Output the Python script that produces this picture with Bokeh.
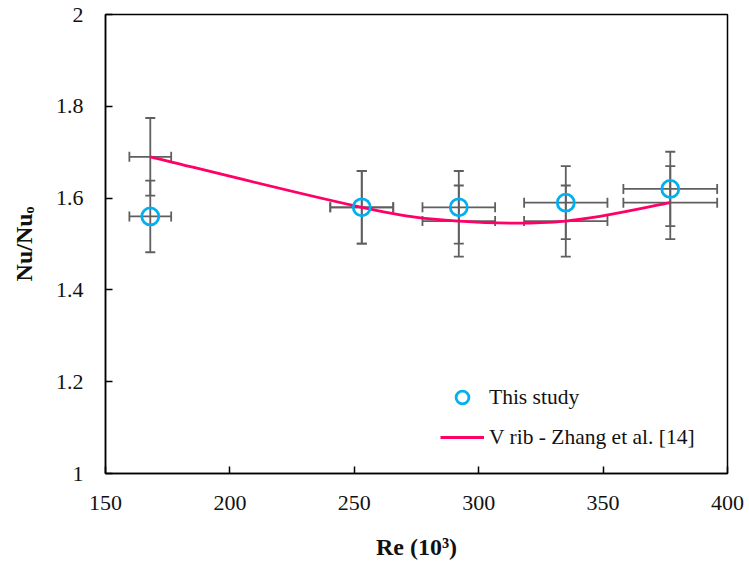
from bokeh.plotting import figure
from bokeh.models import (ColumnDataSource, Whisker, TeeHead, FixedTicker,
                          CustomJSTickFormatter, Legend, LegendItem, Range1d)
from bokeh.embed import file_html
from bokeh.resources import INLINE

# Reynolds number (x10^3) of the tested cases
re_k = [168, 253, 292, 335, 377]
# Nusselt number ratio, present measurements
nu_study = [1.56, 1.58, 1.58, 1.59, 1.62]
# Nusselt number ratio, V rib correlation of Zhang et al.
nu_zhang = [1.69, 1.58, 1.55, 1.55, 1.59]
# relative uncertainty on both quantities
rel_err = 0.05

x_ticks = [150, 200, 250, 300, 350, 400]
y_ticks = [1.0, 1.2, 1.4, 1.6, 1.8, 2.0]

SERIF = "Liberation Serif"
GREY = "#5f5f5f"
CYAN = "#00b0f0"
PINK = "#ff0066"

p = figure(width=749, height=565, output_backend="svg", toolbar_location=None,
           x_range=Range1d(150, 400), y_range=Range1d(1, 2),
           min_border_left=105, min_border_right=22,
           min_border_top=14, min_border_bottom=92)
p.background_fill_color = "white"
p.border_fill_color = "white"
p.outline_line_color = "black"
p.outline_line_width = 1.5
p.xgrid.visible = False
p.ygrid.visible = False


def bars(xs, ys):
    return ColumnDataSource(dict(
        x=xs, y=ys,
        xl=[v * (1 - rel_err) for v in xs], xu=[v * (1 + rel_err) for v in xs],
        yl=[v * (1 - rel_err) for v in ys], yu=[v * (1 + rel_err) for v in ys],
    ))


def add_error_bars(src):
    for dim, base, lo, hi in (("height", "x", "yl", "yu"), ("width", "y", "xl", "xu")):
        w = Whisker(source=src, base=base, lower=lo, upper=hi, dimension=dim,
                    line_color=GREY, line_width=1.8,
                    lower_head=TeeHead(size=10, line_color=GREY, line_width=1.8),
                    upper_head=TeeHead(size=10, line_color=GREY, line_width=1.8))
        p.add_layout(w)


src_study = bars(re_k, nu_study)
src_zhang = bars(re_k, nu_zhang)
add_error_bars(src_zhang)
add_error_bars(src_study)

# smoothed curve through the correlation points (cubic Bezier segments)
n = len(re_k)
pts = list(zip(re_k, nu_zhang))
seg = dict(x0=[], y0=[], x1=[], y1=[], cx0=[], cy0=[], cx1=[], cy1=[])
for i in range(n - 1):
    p0 = pts[i - 1] if i > 0 else pts[i]
    p1 = pts[i]
    p2 = pts[i + 1]
    p3 = pts[i + 2] if i + 2 < n else pts[i + 1]
    seg["x0"].append(p1[0]); seg["y0"].append(p1[1])
    seg["x1"].append(p2[0]); seg["y1"].append(p2[1])
    seg["cx0"].append(p1[0] + (p2[0] - p0[0]) / 6)
    seg["cy0"].append(p1[1] + (p2[1] - p0[1]) / 6)
    seg["cx1"].append(p2[0] - (p3[0] - p1[0]) / 6)
    seg["cy1"].append(p2[1] - (p3[1] - p1[1]) / 6)
curve = p.bezier(x0="x0", y0="y0", x1="x1", y1="y1", cx0="cx0", cy0="cy0",
                 cx1="cx1", cy1="cy1", source=ColumnDataSource(seg),
                 line_color=PINK, line_width=2.8)

pts_r = p.scatter(x="x", y="y", source=src_study, marker="circle", size=17,
                  fill_color=None, line_color=CYAN, line_width=2.8)

legend = Legend(items=[LegendItem(label="This study", renderers=[pts_r]),
                       LegendItem(label="V rib - Zhang et al. [14]", renderers=[curve])],
                location=(335, 20), orientation="vertical",
                background_fill_alpha=0, border_line_alpha=0,
                padding=0, margin=0, spacing=8,
                glyph_width=44, glyph_height=32, label_height=32,
                label_standoff=5,
                label_text_font=SERIF, label_text_font_size="21.5px",
                label_text_color="#111111")
p.add_layout(legend, "center")

# axes
for ax in (p.xaxis[0], p.yaxis[0]):
    ax.axis_line_color = "black"
    ax.axis_line_width = 1.5
    ax.major_tick_line_color = "black"
    ax.major_tick_line_width = 1.5
    ax.major_tick_in = 7
    ax.major_tick_out = 0
    ax.minor_tick_line_color = None
    ax.major_label_text_font = SERIF
    ax.major_label_text_font_size = "22px"
    ax.major_label_text_color = "#111111"
    ax.axis_label_text_font = SERIF
    ax.axis_label_text_font_size = "24px"
    ax.axis_label_text_font_style = "bold"
    ax.axis_label_text_color = "#111111"

p.xaxis.ticker = FixedTicker(ticks=x_ticks)
p.yaxis.ticker = FixedTicker(ticks=y_ticks)
p.yaxis.formatter = CustomJSTickFormatter(code="return String(+tick.toFixed(1));")
p.xaxis.major_label_standoff = 22
p.yaxis.major_label_standoff = 22
p.xaxis.axis_label = "Re (10\u00b3)"
p.yaxis.axis_label = "Nu/Nu\u2092"
p.xaxis.axis_label_standoff = 21
p.yaxis.axis_label_standoff = 16

open("out.html", "w").write(file_html(p, INLINE))
